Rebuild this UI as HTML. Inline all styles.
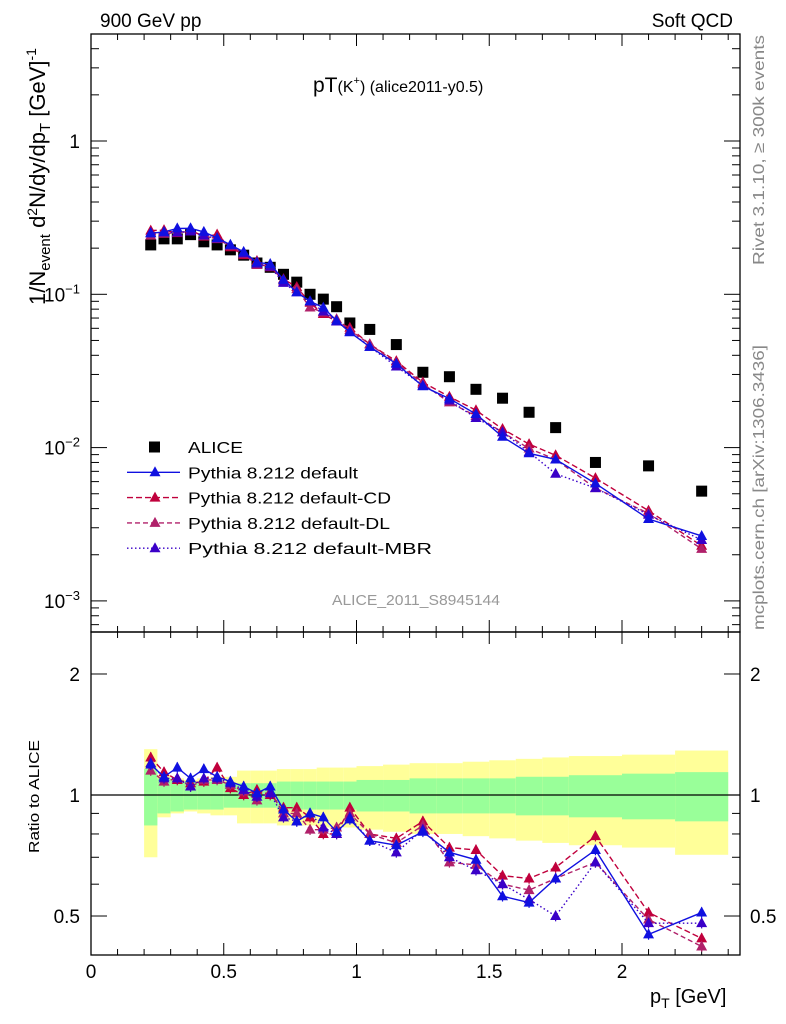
<!DOCTYPE html>
<html><head><meta charset="utf-8"><style>
body{margin:0;background:#fff;}
svg{display:block;font-family:"Liberation Sans",sans-serif;}
</style></head><body>
<svg id="c" width="786" height="1024" viewBox="0 0 786 1024" xmlns="http://www.w3.org/2000/svg">
<g id="bands"></g>
<g id="grid"></g>
<g id="marks"></g>
<rect x="91" y="34" width="649" height="598" fill="none" stroke="#000" stroke-width="1.3"/>
<rect x="91" y="632" width="649" height="323" fill="none" stroke="#000" stroke-width="1.3"/>
<text x="100" y="27" font-size="19">900 GeV pp</text>
<text x="733" y="27" font-size="19" text-anchor="end">Soft QCD</text>
<text x="313" y="92" font-size="21">pT<tspan font-size="16">(K</tspan><tspan font-size="11" dy="-8">+</tspan><tspan font-size="16" dy="8">) (alice2011-y0.5)</tspan></text>
<text x="416" y="605" font-size="15" fill="#999" text-anchor="middle" textLength="168" lengthAdjust="spacingAndGlyphs">ALICE_2011_S8945144</text>
<text transform="translate(764,265) rotate(-90)" font-size="16" fill="#888" textLength="230" lengthAdjust="spacingAndGlyphs">Rivet 3.1.10, ≥ 300k events</text>
<text transform="translate(764,630) rotate(-90)" font-size="16" fill="#888" textLength="285" lengthAdjust="spacingAndGlyphs">mcplots.cern.ch [arXiv:1306.3436]</text>
<text transform="translate(45,305) rotate(-90)" font-size="22">1/N<tspan font-size="15" dy="5">event</tspan><tspan dy="-5"> d</tspan><tspan font-size="14" dy="-8">2</tspan><tspan dy="8">N/dy/dp</tspan><tspan font-size="15" dy="5">T</tspan><tspan dy="-5">  [GeV]</tspan><tspan font-size="14" dy="-9">-1</tspan></text>
<text transform="translate(39,853) rotate(-90)" font-size="15" textLength="113" lengthAdjust="spacingAndGlyphs">Ratio to ALICE</text>
<text x="650" y="1003" font-size="20">p<tspan font-size="14" dy="5">T</tspan><tspan dy="-5"> [GeV]</tspan></text>
<g id="legend"></g>
</svg>
<script>
const ptBins = [0.225,0.275,0.325,0.375,0.425,0.475,0.525,0.575,0.625,0.675,0.725,0.775,0.825,0.875,0.925,0.975,1.05,1.15,1.25,1.35,1.45,1.55,1.65,1.75,1.9,2.1,2.3];
const binLo = [0.2,0.25,0.3,0.35,0.4,0.45,0.5,0.55,0.6,0.65,0.7,0.75,0.8,0.85,0.9,0.95,1.0,1.1,1.2,1.3,1.4,1.5,1.6,1.7,1.8,2.0,2.2];
const binHi = [0.25,0.3,0.35,0.4,0.45,0.5,0.55,0.6,0.65,0.7,0.75,0.8,0.85,0.9,0.95,1.0,1.1,1.2,1.3,1.4,1.5,1.6,1.7,1.8,2.0,2.2,2.4];
const aliceVals = [0.21,0.23,0.23,0.245,0.22,0.21,0.195,0.18,0.16,0.15,0.135,0.12,0.1,0.093,0.083,0.065,0.059,0.047,0.031,0.029,0.024,0.021,0.017,0.0135,0.008,0.0076,0.0052];
const totErr = [0.3,0.12,0.1,0.09,0.1,0.11,0.11,0.15,0.15,0.15,0.16,0.16,0.16,0.17,0.17,0.17,0.18,0.19,0.2,0.2,0.21,0.22,0.23,0.24,0.25,0.26,0.29];
const statErr = [0.16,0.1,0.09,0.08,0.08,0.08,0.07,0.07,0.07,0.07,0.08,0.08,0.08,0.08,0.08,0.08,0.09,0.09,0.1,0.1,0.1,0.1,0.11,0.11,0.12,0.13,0.14];
const ratioDefault = [1.19,1.11,1.17,1.10,1.16,1.11,1.08,1.05,1.01,1.05,0.92,0.86,0.90,0.88,0.81,0.87,0.77,0.75,0.81,0.72,0.69,0.56,0.54,0.62,0.73,0.45,0.51];
const ratioCD = [1.24,1.14,1.09,1.07,1.08,1.17,1.04,1.0,1.03,1.0,0.93,0.93,0.88,0.8,0.8,0.93,0.8,0.78,0.86,0.74,0.73,0.63,0.62,0.66,0.79,0.51,0.44];
const ratioDL = [1.15,1.08,1.1,1.05,1.09,1.09,1.06,1.02,0.97,1.02,0.9,0.9,0.82,0.82,0.83,0.9,0.8,0.76,0.84,0.68,0.67,0.6,0.58,0.62,0.68,0.49,0.42];
const ratioMBR = [1.2,1.1,1.1,1.05,1.1,1.1,1.07,1.03,0.99,1.01,0.88,0.86,0.9,0.83,0.8,0.88,0.77,0.72,0.82,0.7,0.65,0.6,0.55,0.5,0.68,0.48,0.48];
const seriesNames = ["Pythia 8.212 default","Pythia 8.212 default-CD","Pythia 8.212 default-DL","Pythia 8.212 default-MBR"];
const xTickLabels = ["0","0.5","1","1.5","2"];

const NS="http://www.w3.org/2000/svg";
const X = v => 91 + 265.5*v;
const Y = v => 141 - 153.3*Math.log10(v);
const R = v => 795 - 402*Math.log10(v);
function mk(parent,tag,attrs){const e=document.createElementNS(NS,tag);for(const k in attrs)e.setAttribute(k,attrs[k]);document.getElementById(parent).appendChild(e);return e;}

for(let i=0;i<ptBins.length;i++){
  const x0=X(binLo[i]),w=X(binHi[i])-x0;
  const b=mk('bands','rect',{x:x0,y:R(1+totErr[i]),width:w,height:R(1-totErr[i])-R(1+totErr[i]),fill:'#ffff99'});
  
  
  const g=mk('bands','rect',{x:x0,y:R(1+statErr[i]),width:w,height:R(1-statErr[i])-R(1+statErr[i]),fill:'#99ff99'});
  
  
}
const one=mk('grid','line',{x1:91,x2:740,y1:R(1),y2:R(1),stroke:'#000','stroke-width':1.2});



for(let t=0;t<=24;t++){
  const v=t/10,x=X(v),maj=t%5==0,L=maj?12:6;
  for(const [yb,dir] of [[632,-1],[34,1],[955,-1],[632,1]]){
    mk('grid','line',{x1:x,x2:x,y1:yb,y2:yb+dir*L,stroke:'#000'});
  }
}
xTickLabels.forEach((s,i)=>{
  const t=mk('grid','text',{x:X(i*0.5),y:978,'font-size':19,'text-anchor':'middle'});
  t.textContent=s;
  
  
});
for(let d=-4;d<=0;d++){
  for(let m=1;m<=9;m++){
    const v=m*Math.pow(10,d),y=Y(v);
    if(y<34||y>632)continue;
    const L=m==1?16:8;
    mk('grid','line',{x1:91,x2:91+L,y1:y,y2:y,stroke:'#000'});
    mk('grid','line',{x1:740,x2:740-L,y1:y,y2:y,stroke:'#000'});
  }
}
[[1,"1"],[0.1,"-1"],[0.01,"-2"],[0.001,"-3"]].forEach(([v,e])=>{
  const t=mk('grid','text',{x:80,y:Y(v)+7,'font-size':19,'text-anchor':'end'});
  
  
  if(v==1)t.textContent="1";
  else t.innerHTML='10<tspan font-size="13" dy="-8">'+e.replace('-','−')+'</tspan>';
});
[0.5,0.6,0.7,0.8,0.9,1,2].forEach(v=>{
  const L=(v==0.5||v==1||v==2)?16:8,y=R(v);
  mk('grid','line',{x1:91,x2:91+L,y1:y,y2:y,stroke:'#000'});
  mk('grid','line',{x1:740,x2:740-L,y1:y,y2:y,stroke:'#000'});
});
[[2,"2"],[1,"1"],[0.5,"0.5"]].forEach(([v,s])=>{
  const a=mk('grid','text',{x:80,y:R(v)+7,'font-size':19,'text-anchor':'end'});a.textContent=s;
  
  
  const b=mk('grid','text',{x:750,y:R(v)+7,'font-size':19});b.textContent=s;
  
  
});

ptBins.forEach((p,i)=>{
  const r=mk('marks','rect',{x:X(p)-5.5,y:Y(aliceVals[i])-5.5,width:11,height:11,fill:'#000'});
  
  
});
const series=[
  {r:ratioCD,c:'#c0003c',dash:'6,3'},
  {r:ratioDL,c:'#b0206a',dash:'5,3'},
  {r:ratioMBR,c:'#3a00c8',dash:'1.5,2.5'},
  {r:ratioDefault,c:'#1010e0',dash:''}
];
function tri(g,x,y,c){
  const t=mk(g,'path',{d:`M${x},${y-6}L${x+5.5},${y+4}L${x-5.5},${y+4}Z`,fill:c});
  
  
}
series.forEach(s=>{
  const mainPts=ptBins.map((p,i)=>X(p)+','+Y(aliceVals[i]*s.r[i])).join(' ');
  const l=mk('marks','polyline',{points:mainPts,fill:'none',stroke:s.c,'stroke-width':1.4,'stroke-dasharray':s.dash});
  
  
  const ratPts=ptBins.map((p,i)=>X(p)+','+R(s.r[i])).join(' ');
  const l2=mk('marks','polyline',{points:ratPts,fill:'none',stroke:s.c,'stroke-width':1.4,'stroke-dasharray':s.dash});
  
  
  ptBins.forEach((p,i)=>{
    tri('marks',X(p),Y(aliceVals[i]*s.r[i]),s.c);
    mk('marks','line',{x1:X(p),x2:X(p),y1:R(s.r[i]*1.03),y2:R(s.r[i]*0.97),stroke:s.c,'stroke-width':1.2});
    tri('marks',X(p),R(s.r[i]),s.c);
  });
});

const lg=[{n:"ALICE",c:'#000',sq:true,w:55},
  {n:seriesNames[0],c:'#1010e0',dash:'',w:170},
  {n:seriesNames[1],c:'#c0003c',dash:'6,3',w:203},
  {n:seriesNames[2],c:'#b0206a',dash:'5,3',w:202},
  {n:seriesNames[3],c:'#3a00c8',dash:'1.5,2.5',w:244}];
lg.forEach((e,i)=>{
  const y=447+25.3*i;
  if(e.sq){mk('legend','rect',{x:149,y:y-5.5,width:11,height:11,fill:'#000'});}
  else{mk('legend','line',{x1:127,x2:180,y1:y,y2:y,stroke:e.c,'stroke-width':1.4,'stroke-dasharray':e.dash});tri('legend',155,y,e.c);}
  const t=mk('legend','text',{x:188,y:y+6,'font-size':16,textLength:e.w,lengthAdjust:'spacingAndGlyphs'});t.textContent=e.n;
  
  
});
</script>
</body></html>
